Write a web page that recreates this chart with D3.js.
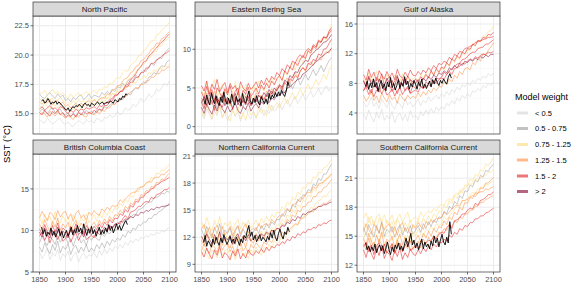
<!DOCTYPE html>
<html>
<head>
<meta charset="utf-8">
<script src="https://cdn.jsdelivr.net/npm/d3@7"></script>
<style>
body { margin: 0; background: #fff; }
svg text { font-family: "Liberation Sans", Arial, sans-serif; }
</style>
</head>
<body>
<svg id="chart" width="575" height="285"></svg>
<script>
// ---------------- data ----------------
const regions = ["North Pacific", "Eastern Bering Sea", "Gulf of Alaska",
                 "British Columbia Coast", "Northern California Current", "Southern California Current"];
const weightLevels = ["< 0.5", "0.5 - 0.75", "0.75 - 1.25", "1.25 - 1.5", "1.5 - 2", "> 2"];
const weightColors = ["#d2d2d2", "#9a9a9a", "#fed976", "#fd8d3c", "#e31a1c", "#800026"];

const years = [1850,1855,1860,1865,1870,1875,1880,1885,1890,1895,
               1900,1905,1910,1915,1920,1925,1930,1935,1940,1945,
               1950,1955,1960,1965,1970,1975,1980,1985,1990,1995,
               2000,2005,2010,2015,2020,2025,2030,2035,2040,2045,
               2050,2055,2060,2065,2070,2075,2080,2085,2090,2095,2100];
const obsYears = [1854,1857,1860,1863,1866,1869,1872,1875,1878,1881,
                  1884,1887,1890,1893,1896,1899,1902,1905,1908,1911,
                  1914,1917,1920,1923,1926,1929,1932,1935,1938,1941,
                  1944,1947,1950,1953,1956,1959,1962,1965,1968,1971,
                  1974,1977,1980,1983,1986,1989,1992,1995,1998,2001,
                  2004,2007,2010,2013,2016,2019];
const xTicks = [1850, 1900, 1950, 2000, 2050, 2100];

// North Pacific
const npTicks = [15, 17.5, 20, 22.5];
const npWeights = ["< 0.5", "0.5 - 0.75", "0.5 - 0.75", "0.75 - 1.25", "0.75 - 1.25", "0.75 - 1.25",
                   "1.25 - 1.5", "1.25 - 1.5", "1.5 - 2", "1.5 - 2"];
const npModels = [
  [14.5,14.3,14.2,14.6,14.4,14.1,14.3,14.5,14.6,14.2, 14.1,14.3,14.0,13.9,14.2,14.4,14.3,14.1,14.5,14.3, 14.4,14.2,14.6,14.5,14.3,14.7,14.6,14.9,14.7,14.8, 15.2,14.9,15.1,15.5,15.3,15.4,15.8,15.6,15.9,16.3, 16.0,16.2,16.7,16.4,16.6,17.1,16.9,17.2,17.6,17.4,17.8],
  [16.7,16.4,16.3,16.6,16.8,16.5,16.3,16.7,16.4,16.6, 16.1,16.3,16.0,16.4,16.2,16.5,16.6,16.2,16.4,16.7, 16.3,16.6,16.5,16.4,16.8,16.6,16.9,16.7,17.1,16.9, 17.3,17.2,17.6,17.4,17.8,18.0,17.8,18.3,18.1,18.5, 18.7,18.6,19.0,19.3,19.1,19.5,19.8,19.7,20.1,20.4,20.6],
  [15.1,15.4,15.2,15.0,15.3,15.5,15.1,15.2,15.4,15.0, 14.9,15.1,14.7,15.0,14.8,15.2,15.0,14.9,15.3,15.1, 15.2,15.0,15.3,15.4,15.2,15.6,15.5,15.7,15.9,15.8, 16.1,16.3,16.2,16.5,16.7,16.6,17.0,17.2,17.1,17.5, 17.7,17.6,18.1,18.2,18.5,18.4,18.8,19.1,19.0,19.4,19.6],
  [16.9,16.7,17.0,16.6,16.8,17.1,16.7,16.9,16.6,16.8, 16.5,16.3,16.7,16.4,16.6,16.8,16.5,16.7,16.9,16.6, 16.8,17.0,16.7,17.1,17.0,17.3,17.2,17.6,17.5,17.9, 18.1,18.0,18.5,18.7,18.6,19.1,19.3,19.5,19.9,20.0, 20.4,20.5,20.9,21.2,21.2,21.7,21.8,22.1,22.3,22.5,22.8],
  [15.7,15.5,15.9,15.6,15.4,15.8,15.7,15.5,15.8,15.6, 15.3,15.5,15.2,15.4,15.6,15.3,15.5,15.7,15.5,15.8, 15.6,15.9,15.7,16.0,16.1,16.0,16.4,16.3,16.7,16.7, 17.0,17.1,17.4,17.5,17.9,18.0,18.2,18.6,18.7,19.1, 19.2,19.4,19.8,19.9,20.3,20.3,20.8,20.8,21.2,21.3,21.6],
  [16.3,16.1,16.0,16.4,16.2,16.3,16.0,16.2,16.4,16.1, 15.9,16.0,15.8,16.1,15.9,16.2,16.0,16.1,15.9,16.3, 16.1,16.2,16.0,16.3,16.2,16.5,16.3,16.5,16.7,16.6, 16.9,16.8,17.1,17.1,17.4,17.3,17.7,17.6,18.0,17.9, 18.2,18.1,18.5,18.4,18.7,18.6,18.9,18.8,19.1,19.0,19.2],
  [14.9,15.1,15.0,14.7,15.2,15.0,14.8,15.1,15.0,14.8, 14.6,14.8,14.7,14.5,14.9,14.7,15.0,14.8,14.7,15.1, 15.0,14.9,15.2,15.0,15.3,15.2,15.5,15.5,15.8,15.8, 16.1,16.1,16.4,16.4,16.7,16.8,17.0,17.2,17.2,17.5, 17.5,17.8,17.8,18.1,18.1,18.4,18.4,18.7,18.7,18.9,19.0],
  [16.0,15.8,16.1,15.9,16.2,15.8,16.0,16.1,15.8,16.0, 15.6,15.8,15.5,15.7,15.9,15.6,15.9,15.7,16.0,16.1, 15.9,16.2,16.0,16.2,16.4,16.3,16.7,16.6,17.0,17.1, 17.4,17.4,17.8,18.0,18.1,18.5,18.6,19.0,19.1,19.5, 19.6,19.9,20.1,20.5,20.6,21.0,21.0,21.4,21.5,21.8,22.0],
  [15.1,14.9,15.3,15.0,14.8,15.2,15.0,15.3,14.9,15.1, 14.7,14.9,14.8,15.0,14.7,15.1,14.9,15.2,15.0,15.1, 15.0,15.3,15.1,15.4,15.3,15.7,15.7,16.0,16.1,16.5, 16.6,16.9,17.0,17.4,17.5,17.9,18.1,18.4,18.8,19.0, 19.4,19.5,19.9,20.1,20.4,20.6,20.9,21.1,21.3,21.6,21.8],
  [15.4,15.6,15.3,15.5,15.7,15.4,15.5,15.3,15.6,15.5, 15.2,15.0,15.3,15.1,15.4,15.2,15.4,15.3,15.5,15.4, 15.5,15.6,15.4,15.7,15.6,15.9,15.9,16.2,16.3,16.6, 16.6,16.9,16.9,17.3,17.3,17.7,17.7,18.1,18.1,18.5, 18.5,18.9,18.9,19.3,19.3,19.6,19.7,19.9,20.1,20.2,20.4]
];
const npObs = [16.1,16.2,15.9,16.0,16.3,16.1,15.8,16.0,15.9,16.1, 15.8,16.0,15.9,15.7,15.6,15.4,15.3,15.5,15.2,15.4,
               15.6,15.5,15.7,15.6,15.8,15.7,15.5,15.8,15.9,15.7, 15.8,15.6,15.9,15.8,15.7,15.9,16.0,15.8,15.9,16.0,
               15.8,15.9,16.0,15.9,16.1,16.0,15.9,16.2,16.1,16.0, 16.3,16.2,16.5,16.4,16.7,16.6];

// Eastern Bering Sea
const ebsTicks = [0, 5, 10];
const ebsWeights = ["< 0.5", "0.5 - 0.75", "0.75 - 1.25", "0.75 - 1.25", "1.25 - 1.5",
                    "1.5 - 2", "1.5 - 2", "1.5 - 2", "> 2", "> 2"];
const ebsModels = [
  [1.7,1.0,2.3,1.6,0.9,2.1,1.4,2.6,1.1,1.8, 0.8,1.5,2.2,1.3,1.9,0.7,1.6,2.4,1.5,1.0, 2.0,1.2,1.8,2.5,1.4,2.1,1.7,2.8,2.0,2.4, 3.0,2.2,2.9,3.5,2.6,3.3,3.9,3.0,3.6,4.2, 3.4,4.0,4.6,3.8,4.3,5.0,4.1,4.7,5.3,4.6,5.1],
  [3.4,2.5,3.1,4.1,2.9,3.5,2.3,3.8,3.2,4.0, 2.8,3.3,2.4,3.6,4.2,3.0,2.6,3.5,3.9,2.7, 3.3,4.0,3.1,3.7,2.9,4.3,3.6,4.0,4.6,3.8, 4.4,5.2,4.3,5.0,5.7,4.9,5.6,6.3,5.4,6.1, 6.8,6.0,6.7,7.4,6.6,7.2,7.9,7.1,7.8,8.5,8.9],
  [2.2,1.3,2.8,1.9,1.0,2.5,1.6,2.9,1.2,2.0, 1.5,0.7,2.1,1.4,2.6,1.0,1.8,0.8,2.3,1.5, 1.9,1.1,2.6,1.7,2.2,1.4,2.9,2.0,2.6,3.1, 2.4,3.2,3.8,2.9,3.7,4.4,3.5,4.2,4.9,4.1, 4.8,5.5,4.7,5.3,6.1,5.4,6.0,6.8,6.1,7.2,8.0],
  [4.8,3.9,5.7,4.3,5.1,6.1,3.8,4.7,5.5,4.2, 5.0,3.7,4.6,5.8,4.4,5.2,3.9,5.5,4.7,4.1, 5.4,4.5,5.9,5.0,4.6,5.7,5.2,6.3,5.5,6.0, 6.7,5.9,7.2,6.6,7.6,8.2,7.3,8.4,8.9,8.2, 9.3,9.9,9.1,10.3,10.8,10.2,11.3,11.6,11.1,12.4,13.2],
  [3.7,2.8,4.4,3.1,3.9,4.6,2.9,3.6,4.3,3.2, 3.8,2.7,4.1,3.5,4.5,3.0,3.7,4.2,3.3,3.9, 3.4,4.4,3.8,4.1,3.5,4.6,4.2,4.9,4.4,5.1, 5.5,4.9,5.8,6.3,5.6,6.5,7.0,6.4,7.2,7.7, 7.1,8.0,8.4,7.9,8.7,9.0,8.6,9.4,9.7,9.5,10.2],
  [4.5,3.6,5.2,4.0,4.8,3.4,5.0,4.4,3.7,4.9, 4.1,5.3,3.8,4.6,5.0,3.5,4.7,4.2,5.1,3.9, 4.4,5.0,4.2,5.4,4.8,5.6,5.0,5.9,5.4,6.2, 6.6,6.0,7.2,6.8,7.7,7.3,8.3,7.9,8.7,9.2, 8.8,9.8,9.5,10.4,10.1,11.0,10.9,11.6,11.4,12.3,12.8],
  [3.1,2.3,3.7,2.8,3.4,2.1,3.9,3.0,2.5,3.6, 2.9,3.4,2.2,3.8,3.1,2.6,3.5,2.8,3.9,2.7, 3.2,3.6,2.9,3.9,3.5,4.1,3.7,4.6,4.0,4.9, 5.2,4.7,5.7,5.3,6.2,5.9,6.6,6.3,7.2,7.6, 7.3,8.2,8.0,8.7,8.5,9.4,9.2,10.0,10.1,10.7,11.3],
  [5.3,4.6,5.9,4.2,5.5,4.8,6.1,4.5,5.2,5.7, 4.4,5.6,4.9,5.3,4.1,5.8,5.0,4.6,5.6,4.8, 5.2,5.8,5.0,6.0,5.4,6.3,5.7,6.5,6.1,7.0, 6.6,7.5,7.1,8.0,7.6,8.5,8.2,8.9,9.3,8.9, 9.7,10.1,9.8,10.6,10.3,11.2,10.9,11.6,11.5,12.0,12.5],
  [3.1,3.9,2.8,3.5,4.2,2.9,3.6,3.2,4.0,2.7, 3.8,3.0,3.4,4.3,2.8,3.6,3.1,3.9,3.3,2.9, 3.7,3.2,4.1,3.6,4.4,3.9,4.8,4.2,5.0,4.6, 5.4,5.1,6.0,5.7,6.6,6.3,7.1,7.0,7.8,8.1, 8.6,8.4,9.2,9.5,9.9,10.1,10.5,10.9,11.0,11.4,11.9],
  [2.5,1.7,2.9,2.2,1.6,2.8,2.0,3.1,2.3,1.8, 2.7,1.9,2.4,3.0,2.1,1.7,2.6,2.2,3.1,2.0, 2.6,3.0,2.4,3.2,2.9,3.4,3.1,3.7,3.5,4.1, 4.0,4.5,4.4,5.0,5.1,5.5,5.8,6.1,6.2,6.8, 7.0,7.3,7.7,8.0,8.4,8.6,9.0,9.2,9.5,9.7,10.1]
];
const ebsObs = [3.6,2.9,4.1,3.3,2.8,4.4,3.5,3.0,4.0,3.2, 2.7,3.8,3.1,4.5,3.4,2.9,3.7,3.0,4.2,3.3,
                2.8,3.9,3.2,3.6,2.7,4.3,3.4,3.0,3.8,4.6, 3.3,2.9,3.7,3.1,4.0,3.2,2.8,3.9,3.4,3.0,
                3.6,2.9,4.3,3.5,4.1,3.7,4.4,3.9,4.5,4.0, 4.7,4.2,3.9,4.6,5.8,5.2];

// Gulf of Alaska
const goaTicks = [4, 8, 12, 16];
const goaWeights = ["< 0.5", "< 0.5", "1.25 - 1.5", "0.75 - 1.25", "1.5 - 2",
                    "1.5 - 2", "1.5 - 2", "1.5 - 2", "> 2"];
const goaModels = [
  [3.9,3.1,4.4,3.5,2.8,4.1,3.3,4.5,3.0,3.7, 3.2,4.2,2.7,3.6,4.0,3.0,3.8,2.9,4.3,3.4, 3.7,3.1,4.2,3.6,4.4,3.8,4.6,4.0,4.8,4.3, 4.9,4.5,5.3,5.0,5.7,5.2,6.0,5.6,6.4,6.0, 6.6,6.2,7.0,6.8,7.3,7.0,7.7,7.4,8.0,7.7,8.2],
  [5.6,4.8,5.2,6.1,4.9,5.5,4.6,5.9,5.3,4.7, 5.8,5.0,4.5,5.6,5.2,4.6,6.0,5.1,5.5,4.8, 5.3,5.9,5.0,5.7,5.4,6.2,5.6,6.0,6.4,5.9, 6.6,6.2,6.9,6.4,7.2,6.8,7.5,7.1,7.8,7.5, 8.1,7.7,8.4,8.1,8.7,8.4,9.0,8.7,9.3,9.0,9.4],
  [6.4,5.6,6.1,6.9,5.7,6.3,5.4,6.7,6.0,5.5, 6.5,5.8,6.2,5.3,6.6,6.0,5.6,6.4,5.9,6.3, 6.0,6.7,6.2,6.9,6.4,7.1,6.7,7.4,7.0,7.6, 7.5,8.2,7.8,8.6,8.2,9.1,8.7,9.6,9.2,10.0, 10.1,9.8,10.8,10.5,11.3,11.0,12.0,11.8,12.5,12.9,13.5],
  [8.7,8.0,9.4,8.3,8.9,9.6,8.1,8.8,8.4,9.2, 8.6,7.9,9.1,8.5,8.2,9.3,8.4,8.9,8.0,8.7, 8.8,8.3,9.2,8.7,9.4,8.9,9.6,9.1,9.9,9.4, 10.1,9.8,10.7,10.2,11.1,10.8,11.6,11.2,12.1,11.8, 12.6,12.4,13.2,13.0,13.8,13.6,14.4,14.3,15.0,15.1,15.8],
  [8.4,7.6,9.0,8.1,7.5,8.8,8.2,9.3,7.7,8.5, 8.9,7.8,8.3,9.1,7.6,8.6,8.0,9.0,8.4,7.9, 8.6,8.1,8.9,8.5,9.2,8.7,9.7,9.1,10.0,9.5, 10.2,10.0,10.8,10.4,11.3,11.0,11.7,11.4,12.2,12.0, 12.7,12.6,13.3,13.1,13.8,13.7,14.2,14.1,14.6,14.5,14.9],
  [7.0,7.8,7.2,6.7,7.7,7.4,6.8,7.9,7.1,7.6, 7.8,6.9,7.5,6.6,7.6,7.9,7.0,7.4,6.7,7.7, 7.3,8.0,7.6,7.3,8.2,7.9,8.4,8.2,8.7,8.6, 8.8,9.5,9.2,9.7,10.0,10.3,10.6,10.7,11.2,11.3, 11.6,12.0,12.2,12.2,12.7,12.8,12.9,13.3,13.3,13.6,13.9],
  [9.2,8.4,9.9,8.8,9.5,8.3,9.7,9.1,8.6,9.6, 8.8,9.4,8.5,9.9,9.0,8.7,9.5,8.9,9.8,9.1, 9.0,9.6,9.2,9.8,9.4,10.1,9.7,10.4,10.0,10.7, 10.5,11.0,10.8,11.5,11.2,11.9,11.7,12.3,12.2,12.7, 12.8,13.0,13.2,13.5,13.6,13.7,13.9,14.0,14.2,14.2,14.3],
  [7.0,7.5,6.5,7.2,6.2,7.1,7.4,6.6,7.3,6.4, 6.7,7.3,6.3,7.0,7.4,6.5,7.1,7.6,6.6,6.9, 7.1,6.8,7.6,7.3,7.6,7.8,7.7,8.3,8.0,8.5, 8.7,8.6,9.2,9.6,9.2,10.0,10.1,10.3,10.7,10.6, 11.0,11.3,11.1,11.6,11.4,11.8,11.9,11.9,12.2,12.1,12.3],
  [8.3,7.5,8.8,7.9,8.5,7.4,8.6,8.1,7.7,8.7, 8.0,8.4,7.6,8.9,8.1,7.8,8.6,7.9,8.5,8.2, 8.0,8.5,8.1,8.7,8.3,8.9,8.5,9.1,8.8,9.4, 9.2,9.7,9.4,10.1,9.8,10.4,10.1,10.7,10.4,11.0, 10.8,11.2,11.0,11.4,11.2,11.6,11.4,11.8,11.6,11.9,11.9]
];
const goaObs = [7.6,8.3,7.2,8.0,7.4,8.6,7.5,8.1,6.9,7.8, 8.4,7.3,7.9,7.0,8.2,7.5,8.8,7.4,8.0,7.1,
                7.7,8.5,7.3,8.1,7.6,8.9,7.8,8.3,7.2,8.0, 7.5,8.4,7.9,7.2,8.2,7.6,8.6,7.4,7.9,7.3,
                7.8,8.3,7.5,8.5,7.9,8.7,8.1,7.7,8.4,8.0, 8.6,8.2,7.9,8.8,9.3,8.7];

// British Columbia Coast
const bcTicks = [5, 10, 15];
const bcWeights = ["< 0.5", "0.5 - 0.75", "0.5 - 0.75", "0.75 - 1.25", "1.25 - 1.5",
                   "1.25 - 1.5", "1.5 - 2", "1.5 - 2", "> 2"];
const bcModels = [
  [7.4,6.6,7.1,7.9,6.5,7.3,6.9,7.7,6.4,7.2, 6.8,7.5,6.3,7.0,7.4,6.2,6.9,7.3,6.6,7.1, 6.9,7.4,6.7,7.6,7.0,7.8,7.2,7.9,7.5,8.1, 7.8,8.3,7.9,8.6,8.2,8.8,8.5,9.0,8.7,9.2, 9.0,9.4,9.2,9.6,9.4,9.8,9.6,10.0,9.8,10.2,10.3],
  [8.0,7.4,8.5,7.8,7.2,8.3,7.6,8.7,7.3,8.1, 7.7,8.4,7.1,7.9,8.2,7.3,8.0,7.5,8.3,7.4, 7.9,7.5,8.3,7.8,8.5,7.9,8.7,8.2,8.9,8.6, 9.1,8.8,9.5,9.2,9.9,9.7,10.3,10.1,10.7,10.6, 11.0,11.0,11.5,11.4,11.9,11.9,12.3,12.4,12.8,12.9,13.3],
  [8.5,9.3,8.7,8.2,9.2,8.9,8.3,9.4,8.6,9.1, 9.3,8.4,9.0,8.1,9.1,9.4,8.5,8.9,8.2,9.2, 8.8,9.4,9.0,8.8,9.6,9.3,9.8,9.6,10.1,10.0, 10.1,10.8,10.5,11.0,11.3,11.6,11.9,11.9,12.5,12.6, 12.8,13.2,13.4,13.4,13.9,14.0,14.1,14.5,14.4,14.7,14.6],
  [11.6,10.8,12.0,11.1,11.7,10.6,12.3,11.2,10.9,11.8, 11.0,11.6,10.5,11.9,11.3,10.7,11.5,11.1,12.0,10.9, 11.3,11.9,11.1,12.0,11.5,12.3,11.8,12.5,12.1,12.8, 12.6,13.2,12.9,13.7,13.4,14.2,14.0,14.8,14.6,15.3, 15.2,15.8,15.7,16.4,16.2,16.9,16.8,17.3,17.2,17.7,17.9],
  [11.5,12.3,11.7,11.2,12.2,11.9,11.3,12.4,11.6,12.1, 12.3,11.4,12.0,11.1,12.1,12.4,11.5,11.9,11.2,12.2, 11.8,12.4,12.0,11.8,12.6,12.3,12.8,12.5,13.0,12.9, 13.0,13.7,13.4,13.8,14.1,14.4,14.6,14.6,15.1,15.2, 15.3,15.7,15.9,15.8,16.3,16.4,16.4,16.8,16.7,17.1,17.3],
  [10.8,10.1,11.3,10.5,9.9,11.1,10.4,11.5,10.0,10.8, 10.3,11.0,9.8,10.7,11.2,10.2,10.9,10.4,11.1,10.0, 10.6,11.0,10.4,11.2,10.7,11.4,10.9,11.7,11.2,11.9, 11.8,12.4,12.1,12.9,12.6,13.3,13.1,13.8,13.6,14.3, 14.2,14.8,14.7,15.3,15.2,15.8,15.7,16.2,16.1,16.6,16.9],
  [10.2,9.5,10.7,9.9,9.4,10.6,9.8,10.9,9.6,10.3, 10.0,9.4,10.5,9.7,10.8,9.9,10.2,9.5,10.6,10.1, 9.9,10.5,10.1,10.8,10.3,11.0,10.6,11.3,10.9,11.5, 11.4,12.0,11.8,12.5,12.2,13.0,12.8,13.5,13.4,14.0, 14.0,14.5,14.6,15.0,15.1,15.5,15.6,15.9,16.0,16.2,16.4],
  [9.3,9.8,8.8,9.5,8.5,9.4,9.7,8.9,9.6,8.7, 9.0,9.6,8.6,9.3,9.7,8.8,9.4,9.9,8.9,9.2, 9.4,9.1,9.9,9.5,9.8,10.1,9.9,10.5,10.2,10.7, 10.9,10.8,11.4,11.8,11.4,12.2,12.3,12.5,12.9,12.9, 13.3,13.5,13.4,14.0,13.8,14.3,14.4,14.6,14.9,14.9,15.2],
  [9.8,9.2,10.3,9.5,9.1,10.0,9.4,10.4,9.3,9.9, 9.6,9.1,10.1,9.4,10.3,9.5,9.8,9.2,10.2,9.7, 9.5,10.0,9.7,10.2,9.9,10.4,10.1,10.6,10.3,10.8, 10.7,11.1,11.0,11.4,11.3,11.7,11.5,11.9,11.8,12.2, 12.1,12.4,12.3,12.6,12.5,12.8,12.7,12.9,12.9,13.0,13.1]
];
const bcObs = [10.4,9.6,10.1,9.3,9.8,9.5,10.3,9.4,9.9,9.2, 9.7,10.2,9.4,9.9,9.1,9.6,10.0,9.3,9.8,10.4,
               9.5,10.1,9.7,10.6,9.8,10.3,9.6,10.8,10.0,9.4, 10.2,9.7,10.5,9.6,10.1,9.3,9.9,10.4,9.5,10.0,
               9.6,10.3,9.8,10.7,10.0,10.5,9.7,10.2,10.8,10.1, 10.6,10.0,10.4,10.9,11.2,10.7];

// Northern California Current
const nccTicks = [9, 12, 15, 18, 21];
const nccWeights = ["0.5 - 0.75", "0.75 - 1.25", "0.75 - 1.25", "0.75 - 1.25", "1.25 - 1.5",
                    "1.25 - 1.5", "1.25 - 1.5", "1.5 - 2", "> 2"];
const nccModels = [
  [12.9,12.1,13.2,12.5,11.9,13.1,12.4,13.5,12.2,12.8, 12.4,13.0,11.9,12.7,13.2,12.1,12.9,12.3,13.1,12.2, 12.6,13.1,12.4,13.3,12.8,13.5,13.0,13.7,13.4,14.0, 13.9,14.6,14.3,15.1,14.8,15.6,15.3,16.2,15.9,16.7, 16.6,17.3,17.1,17.9,17.7,18.5,18.3,19.0,19.0,19.6,20.1],
  [13.7,12.9,14.2,13.3,12.7,13.9,13.1,14.3,12.9,13.6, 13.2,13.8,12.7,13.5,14.0,12.9,13.7,13.1,13.9,13.0, 13.4,13.9,13.2,14.1,13.6,14.3,13.8,14.5,14.2,14.8, 14.7,15.4,15.1,15.9,15.6,16.4,16.1,17.0,16.7,17.5, 17.4,18.1,17.9,18.7,18.5,19.2,19.1,19.7,19.8,20.2,20.6],
  [9.9,10.7,10.1,9.6,10.6,10.3,9.7,10.8,10.0,10.5, 10.7,9.8,10.4,9.5,10.5,10.8,9.9,10.3,9.6,10.6, 10.2,10.9,10.4,10.0,10.9,10.6,11.2,10.8,11.6,11.3, 11.5,12.2,11.9,12.4,12.6,13.0,13.4,13.3,14.0,14.2, 14.5,14.8,15.3,15.2,15.8,16.0,16.2,16.6,16.5,17.0,17.3],
  [12.2,11.6,12.8,11.9,12.4,11.3,12.6,12.0,11.5,12.5, 11.8,12.3,11.2,12.6,12.0,11.4,12.2,11.7,12.5,11.6, 12.0,12.5,11.8,12.7,12.2,12.9,12.4,13.1,12.8,13.4, 13.3,14.0,13.7,14.5,14.2,15.0,14.7,15.6,15.3,16.1, 16.0,16.7,16.5,17.3,17.1,17.8,17.7,18.3,18.3,18.8,19.1],
  [11.7,11.0,12.3,11.4,10.9,12.0,11.3,12.4,11.1,11.8, 11.4,10.8,11.9,11.2,12.2,11.0,11.6,10.9,12.0,11.5, 11.4,12.0,11.6,12.3,11.8,12.5,12.0,12.8,12.3,13.0, 12.9,13.5,13.3,14.0,13.7,14.5,14.2,15.0,14.8,15.4, 15.4,15.9,15.9,16.5,16.5,17.0,17.0,17.5,17.6,18.0,18.4],
  [12.9,13.4,12.4,13.1,12.1,13.0,13.3,12.5,13.2,12.3, 12.6,13.2,12.2,12.9,13.3,12.4,13.0,13.5,12.5,12.8, 13.0,12.7,13.5,13.0,13.4,13.5,13.3,14.0,13.6,14.1, 14.4,14.3,14.8,15.2,14.8,15.6,15.7,15.9,16.4,16.2, 16.8,17.0,16.9,17.6,17.4,17.9,18.0,18.1,18.5,18.6,19.0],
  [10.5,11.3,10.7,10.2,11.2,10.9,10.3,11.4,10.6,11.1, 11.3,10.4,11.0,10.1,11.1,11.4,10.5,10.9,10.2,11.2, 10.8,11.4,11.0,10.7,11.5,11.2,11.7,11.4,12.0,11.8, 12.0,12.6,12.3,12.7,12.9,13.2,13.5,13.4,14.0,14.1, 14.3,14.6,14.9,14.8,15.3,15.4,15.5,15.8,15.7,16.0,16.2],
  [10.4,9.8,10.8,10.1,9.6,10.6,10.0,11.0,9.7,10.3, 10.0,9.5,10.5,9.9,10.7,9.6,10.2,9.7,10.6,10.1, 10.0,10.5,10.2,10.7,10.3,10.9,10.5,11.0,10.8,11.2, 11.1,11.5,11.3,11.8,11.6,12.1,11.9,12.4,12.2,12.6, 12.5,12.9,12.8,13.1,13.0,13.4,13.3,13.6,13.5,13.8,13.9],
  [12.1,11.5,12.4,11.8,11.3,12.3,11.7,12.6,11.4,12.0, 11.7,12.2,11.2,12.0,12.4,11.5,12.1,11.6,12.3,11.6, 11.9,12.3,11.8,12.4,12.1,12.6,12.3,12.8,12.6,13.0, 12.9,13.3,13.2,13.7,13.5,14.0,13.8,14.3,14.1,14.6, 14.5,14.8,14.8,15.1,15.1,15.4,15.4,15.6,15.6,15.8,15.9]
];
const nccObs = [11.4,12.2,11.0,11.6,11.3,10.9,11.8,11.2,12.0,11.5, 11.1,11.9,11.4,12.3,11.7,11.2,11.6,12.1,11.4,11.8,
                11.3,12.0,11.6,11.1,11.8,11.4,12.2,11.9,12.7,13.3, 12.1,12.6,11.7,12.2,11.5,11.9,12.3,11.6,12.0,11.8,
                11.5,12.1,11.7,12.5,11.9,12.8,12.0,11.6,12.4,12.9, 12.2,11.8,12.6,12.3,13.1,12.6];

// Southern California Current
const sccTicks = [12, 15, 18, 21];
const sccWeights = ["0.5 - 0.75", "0.75 - 1.25", "0.75 - 1.25", "0.75 - 1.25", "1.25 - 1.5",
                    "1.25 - 1.5", "1.25 - 1.5", "1.5 - 2", "1.5 - 2"];
const sccModels = [
  [15.9,15.1,16.2,15.5,14.9,16.1,15.3,16.5,15.0,15.7, 15.4,16.0,14.9,15.7,16.2,15.1,15.9,15.3,16.1,15.2, 15.6,16.1,15.4,16.3,15.8,16.5,16.0,16.7,16.4,17.0, 16.9,17.6,17.3,18.1,17.8,18.6,18.3,19.2,18.9,19.7, 19.6,20.3,20.1,20.8,20.6,21.3,21.1,21.8,21.7,22.2,22.4],
  [16.4,15.8,17.0,16.1,16.6,15.6,16.9,16.3,15.7,16.7, 16.0,16.5,15.5,16.8,16.2,15.7,16.4,15.9,16.7,15.8, 16.2,16.7,16.0,16.9,16.4,17.1,16.6,17.3,17.0,17.6, 17.5,18.2,17.9,18.7,18.4,19.2,18.9,19.8,19.5,20.3, 20.2,20.9,20.7,21.4,21.2,21.9,21.7,22.4,22.3,22.7,23.1],
  [14.7,15.5,14.9,14.4,15.4,15.1,14.5,15.6,14.8,15.3, 15.5,14.6,15.2,14.3,15.3,15.6,14.7,15.1,14.4,15.4, 15.0,15.7,15.2,14.9,15.8,15.5,16.0,15.7,16.3,16.1, 16.3,17.0,16.7,17.1,17.4,17.8,18.1,18.0,18.6,18.7, 18.9,19.3,19.5,19.4,19.9,20.0,20.1,20.4,20.3,20.6,20.7],
  [16.9,17.4,16.4,17.1,16.1,17.0,17.3,16.5,17.2,16.3, 16.6,17.2,16.2,16.9,17.3,16.4,17.0,17.5,16.5,16.8, 17.0,16.7,17.5,17.0,17.3,17.6,17.4,17.9,17.6,18.1, 18.3,18.2,18.7,18.9,18.7,19.3,19.4,19.4,19.9,19.9, 20.3,20.4,20.4,20.9,20.7,21.1,21.2,21.3,21.6,21.6,21.9],
  [14.8,14.1,15.3,14.5,13.9,15.1,14.3,15.4,14.0,14.7, 14.4,15.0,13.8,14.6,15.2,14.1,14.9,14.3,15.1,14.2, 14.6,15.1,14.4,15.3,14.8,15.5,15.0,15.8,15.4,16.0, 15.9,16.6,16.2,17.0,16.7,17.5,17.2,18.0,17.7,18.5, 18.4,19.0,18.9,19.5,19.4,20.0,19.9,20.5,20.5,20.8,21.1],
  [15.5,16.3,15.7,15.2,16.2,15.9,15.3,16.4,15.6,16.1, 16.3,15.4,16.0,15.1,16.1,16.4,15.5,15.9,15.2,16.2, 15.8,16.4,16.0,15.7,16.5,16.2,16.7,16.4,16.9,16.8, 16.9,17.5,17.2,17.5,17.8,18.1,18.2,18.2,18.7,18.7, 18.8,19.1,19.2,19.1,19.5,19.6,19.6,19.9,19.8,20.0,20.1],
  [14.2,13.6,14.8,13.9,14.4,13.4,14.7,14.1,13.5,14.5, 13.8,14.3,13.3,14.6,14.0,13.5,14.2,13.7,14.5,13.6, 14.0,14.5,13.8,14.7,14.2,14.9,14.4,15.1,14.8,15.4, 15.3,15.8,15.6,16.2,16.0,16.6,16.4,17.0,16.8,17.3, 17.3,17.7,17.7,18.1,18.1,18.5,18.5,18.8,18.9,19.1,19.2],
  [13.6,12.8,13.9,13.2,12.6,13.7,13.0,14.1,12.7,13.4, 13.1,12.5,13.6,12.9,13.8,12.6,13.3,12.8,13.7,13.2, 13.0,13.6,13.2,13.8,13.4,14.0,13.6,14.2,13.9,14.4, 14.3,14.7,14.5,15.1,14.9,15.4,15.2,15.8,15.6,16.1, 16.0,16.4,16.4,16.8,16.8,17.1,17.1,17.4,17.5,17.7,17.9],
  [13.9,14.4,13.4,14.1,13.1,14.0,14.3,13.5,14.2,13.3, 13.6,14.2,13.2,13.9,14.3,13.4,14.0,14.5,13.5,13.8, 14.0,13.7,14.5,14.1,14.3,14.6,14.5,15.0,14.7,15.2, 15.4,15.3,15.9,16.2,15.8,16.6,16.7,16.9,17.3,17.3, 17.7,17.9,17.8,18.4,18.2,18.7,18.8,19.0,19.3,19.3,19.6]
];
const sccObs = [14.3,13.6,14.0,13.4,13.9,13.5,14.2,13.3,13.8,14.1, 13.5,14.0,13.2,13.7,14.4,13.6,13.1,13.9,13.4,14.1,
                13.7,14.3,13.6,14.0,13.5,14.2,14.8,13.9,14.5,15.3, 14.1,14.6,13.8,14.3,13.6,14.1,14.7,13.7,14.4,13.9,
                14.2,13.7,14.5,14.0,15.0,14.3,14.8,13.9,14.6,15.2, 14.4,14.1,14.9,14.3,16.5,15.2];

// ---------------- layout ----------------
const svg = d3.select("#chart");
const colX = [33, 195, 357], rowY = [16, 154];
const pw = 143, ph = 118, stripH = 14;
const yDomains = [[13.27, 23.33], [-0.95, 14.3], [1.17, 17.08], [5.0, 19.2], [8.15, 21.22], [11.3, 23.5]];

const panels = [
  {models: npModels,  weights: npWeights,  obs: npObs,  ticks: npTicks},
  {models: ebsModels, weights: ebsWeights, obs: ebsObs, ticks: ebsTicks},
  {models: goaModels, weights: goaWeights, obs: goaObs, ticks: goaTicks},
  {models: bcModels,  weights: bcWeights,  obs: bcObs,  ticks: bcTicks},
  {models: nccModels, weights: nccWeights, obs: nccObs, ticks: nccTicks},
  {models: sccModels, weights: sccWeights, obs: sccObs, ticks: sccTicks}
];

const x = d3.scaleLinear().domain([1837.5, 2112.5]).range([0, pw]);
const color = d3.scaleOrdinal().domain(weightLevels).range(weightColors);
const xMinor = [1875, 1925, 1975, 2025, 2075];

panels.forEach(function (p, i) {
  const col = i % 3, row = Math.floor(i / 3);
  const y = d3.scaleLinear().domain(yDomains[i]).range([ph, 0]);
  const g = svg.append("g").attr("transform", "translate(" + colX[col] + "," + rowY[row] + ")");

  // minor y grid: halfway between ticks (and beyond the ends when inside the panel)
  const step = p.ticks[1] - p.ticks[0];
  const yMinor = [];
  for (let k = -1; k < p.ticks.length; k++) {
    const v = p.ticks[0] + step * (k + 0.5);
    if (v > yDomains[i][0] && v < yDomains[i][1]) yMinor.push(v);
  }

  g.append("rect").attr("width", pw).attr("height", ph).attr("fill", "#fff");

  g.selectAll(".ymin").data(yMinor).enter().append("line")
    .attr("x1", 0).attr("x2", pw).attr("y1", d => y(d)).attr("y2", d => y(d))
    .attr("stroke", "#f3f3f3").attr("stroke-width", 0.5);
  g.selectAll(".xmin").data(xMinor).enter().append("line")
    .attr("y1", 0).attr("y2", ph).attr("x1", d => x(d)).attr("x2", d => x(d))
    .attr("stroke", "#f3f3f3").attr("stroke-width", 0.5);
  g.selectAll(".ymaj").data(p.ticks).enter().append("line")
    .attr("x1", 0).attr("x2", pw).attr("y1", d => y(d)).attr("y2", d => y(d))
    .attr("stroke", "#ebebeb").attr("stroke-width", 1);
  g.selectAll(".xmaj").data(xTicks).enter().append("line")
    .attr("y1", 0).attr("y2", ph).attr("x1", d => x(d)).attr("x2", d => x(d))
    .attr("stroke", "#ebebeb").attr("stroke-width", 1);

  // clip
  g.append("clipPath").attr("id", "clip" + i)
    .append("rect").attr("width", pw).attr("height", ph);
  const plot = g.append("g").attr("clip-path", "url(#clip" + i + ")");

  // model runs, lower weights first
  const runs = p.models.map(function (vals, k) { return {vals: vals, w: p.weights[k]}; });
  runs.sort(function (a, b) { return weightLevels.indexOf(a.w) - weightLevels.indexOf(b.w); });

  const line = d3.line().x((d, k) => x(years[k])).y(d => y(d));
  plot.selectAll(".run").data(runs).enter().append("path")
    .attr("d", d => line(d.vals))
    .attr("fill", "none")
    .attr("stroke", d => color(d.w))
    .attr("stroke-opacity", 0.65)
    .attr("stroke-width", 0.8);

  const obsLine = d3.line().x((d, k) => x(obsYears[k])).y(d => y(d));
  plot.append("path").attr("d", obsLine(p.obs))
    .attr("fill", "none").attr("stroke", "#000").attr("stroke-width", 0.9);

  // border
  g.append("rect").attr("x", 0).attr("y", 0).attr("width", pw).attr("height", ph)
    .attr("fill", "none").attr("stroke", "#333").attr("stroke-width", 0.7);

  // y axis
  const fmt = p.ticks.some(t => t % 1 !== 0) ? d3.format(".1f") : d3.format("d");
  const yAx = g.append("g").attr("class", "yaxis");
  yAx.selectAll("line").data(p.ticks).enter().append("line")
    .attr("x1", -2.5).attr("x2", 0).attr("y1", d => y(d)).attr("y2", d => y(d))
    .attr("stroke", "#333").attr("stroke-width", 0.7);
  yAx.selectAll("text").data(p.ticks).enter().append("text")
    .attr("x", -4).attr("y", d => y(d)).attr("dy", "0.35em")
    .attr("text-anchor", "end").attr("font-size", "7.5px").attr("fill", "#4d4d4d")
    .text(d => fmt(d));

  // x axis on bottom row only
  if (row === 1) {
    const xAx = g.append("g").attr("transform", "translate(0," + ph + ")");
    xAx.selectAll("line").data(xTicks).enter().append("line")
      .attr("x1", d => x(d)).attr("x2", d => x(d)).attr("y1", 0).attr("y2", 2.5)
      .attr("stroke", "#333").attr("stroke-width", 0.7);
    xAx.selectAll("text").data(xTicks).enter().append("text")
      .attr("x", d => x(d)).attr("y", 10)
      .attr("text-anchor", "middle").attr("font-size", "7.5px").attr("fill", "#4d4d4d")
      .text(d => d);
  }

  // strip
  g.append("rect").attr("x", 0).attr("y", -stripH).attr("width", pw).attr("height", stripH)
    .attr("fill", "#d9d9d9").attr("stroke", "#333").attr("stroke-width", 0.7);
  g.append("text").attr("x", pw / 2).attr("y", -stripH / 2).attr("dy", "0.35em")
    .attr("text-anchor", "middle").attr("font-size", "8px").attr("fill", "#1a1a1a")
    .text(regions[i]);
});

// y axis title
svg.append("text")
  .attr("transform", "translate(10,144)rotate(-90)")
  .attr("text-anchor", "middle").attr("font-size", "9.5px").attr("fill", "#000")
  .text("SST (°C)");

// legend
const legend = svg.append("g").attr("transform", "translate(515,0)");
legend.append("text").attr("x", 0).attr("y", 100)
  .attr("font-size", "9px").attr("fill", "#000").text("Model weight");
const keyY = [113, 128.5, 144.5, 160, 176, 191.5];
legend.selectAll(".key").data(weightLevels).enter().append("line")
  .attr("x1", 2).attr("x2", 13).attr("y1", (d, k) => keyY[k]).attr("y2", (d, k) => keyY[k])
  .attr("stroke", d => color(d)).attr("stroke-opacity", 0.6).attr("stroke-width", 3);
legend.selectAll(".lab").data(weightLevels).enter().append("text")
  .attr("x", 20).attr("y", (d, k) => keyY[k]).attr("dy", "0.35em")
  .attr("font-size", "7.5px").attr("fill", "#000")
  .text(d => d);
</script>
</body>
</html>
